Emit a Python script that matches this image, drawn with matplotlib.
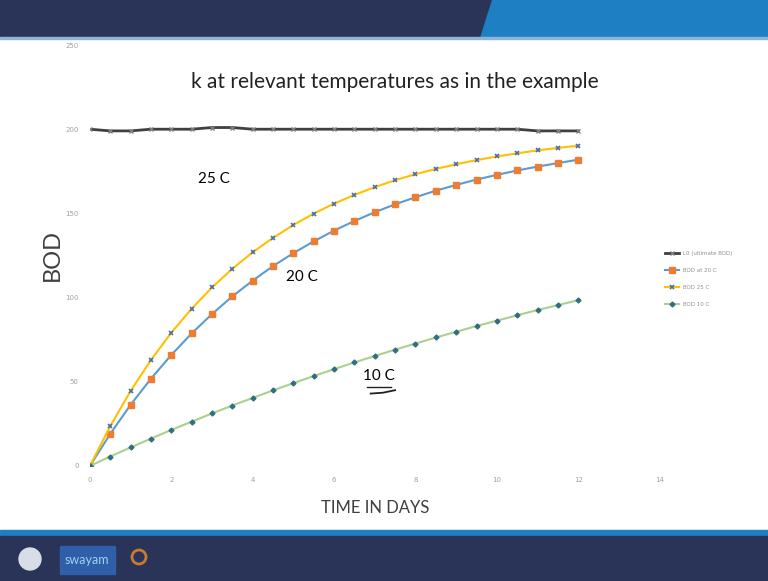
import matplotlib.pyplot as plt
from matplotlib.patches import Polygon, Rectangle, Circle

# time axis (days) and BOD values
days = [0, 0.5, 1, 1.5, 2, 2.5, 3, 3.5, 4, 4.5, 5, 5.5, 6, 6.5, 7, 7.5,
        8, 8.5, 9, 9.5, 10, 10.5, 11, 11.5, 12]
bod_ult = [200, 199, 199, 200, 200, 200, 201, 201, 200, 200, 200, 200, 200,
           200, 200, 200, 200, 200, 200, 200, 200, 200, 199, 199, 199]
bod_20 = [0, 19.0, 36.3, 51.8, 65.9, 78.7, 90.2, 100.7, 110.1, 118.7, 126.4,
          133.4, 139.8, 145.5, 150.7, 155.4, 159.6, 163.5, 166.9, 170.1,
          172.9, 175.5, 177.8, 179.9, 181.9]
bod_25 = [0, 23.6, 44.5, 62.9, 79.1, 93.4, 106.0, 117.1, 126.9, 135.5, 143.1,
          149.9, 155.8, 161.0, 165.6, 169.7, 173.3, 176.4, 179.2, 181.7,
          183.8, 185.7, 187.4, 188.9, 190.2]
bod_10 = [0, 5.6, 11.0, 16.2, 21.4, 26.3, 31.2, 35.9, 40.4, 44.9, 49.2, 53.4,
          57.5, 61.5, 65.3, 69.1, 72.7, 76.3, 79.7, 83.1, 86.3, 89.5, 92.6,
          95.5, 98.5]
labels = ['L0 (ultimate BOD)', 'BOD at 20 C', 'BOD 25 C', 'BOD 10 C']
xticks = [0, 2, 4, 6, 8, 10, 12, 14]
yticks = [0, 50, 100, 150, 200, 250]

font = 'Lato'
navy = '#2a3358'
blue = '#1e7fc3'

fig = plt.figure(figsize=(7.68, 5.81), dpi=100)

# slide decoration: banners top and bottom
bg = fig.add_axes([0, 0, 1, 1])
bg.set_xlim(0, 768)
bg.set_ylim(581, 0)
bg.axis('off')
bg.add_patch(Rectangle((0, 0), 768, 38, color=navy))
bg.add_patch(Polygon([(492, 0), (768, 0), (768, 38), (480, 38)], color=blue))
bg.add_patch(Rectangle((0, 37), 768, 2, color='#8fb3d9'))
bg.add_patch(Rectangle((0, 530), 768, 6, color=blue))
bg.add_patch(Rectangle((0, 536), 768, 45, color=navy))
bg.add_patch(Circle((30, 559), 11, color='#d9dde6'))
bg.add_patch(Rectangle((60, 546), 55, 28, color='#2f5fa8'))
bg.text(87, 560, 'swayam', color='#9fd0f5', fontsize=9, family=font,
        ha='center', va='center')
bg.add_patch(Circle((139, 557), 7, fill=False, ec='#c77b2e', lw=2))
bg.text(395, 82, 'k at relevant temperatures as in the example', fontsize=15,
        family=font, color='#222222', ha='center', va='center')

ax = fig.add_axes([0.117, 0.198, 0.742, 0.7245])
ax.patch.set_alpha(0)
ax.plot(days, bod_ult, color='#404040', lw=2, marker='x', ms=3,
        mec='#808080', label=labels[0])
ax.plot(days, bod_20, color='#5b9bd5', lw=1.5, marker='s', ms=5,
        mfc='#ed7d31', mec='#ed7d31', label=labels[1])
ax.plot(days, bod_25, color='#ffc000', lw=1.5, marker='x', ms=3,
        mec='#4a6fa5', mew=1.2, label=labels[2])
ax.plot(days, bod_10, color='#a9d18e', lw=1.5, marker='D', ms=2.5,
        mfc='#2f6f7f', mec='#2f6f7f', label=labels[3])

ax.set_xlim(0, 14)
ax.set_ylim(0, 250)
ax.set_xticks(xticks)
ax.set_yticks(yticks)
ax.tick_params(length=0, labelsize=5, labelcolor='#a0a0a0', pad=8)
for s in ax.spines.values():
    s.set_visible(False)

ax.set_ylabel('BOD', fontsize=17, family=font, color='#404040', labelpad=2)
ax.set_xlabel('TIME IN DAYS', fontsize=12, family=font, color='#404040',
              labelpad=12)

ax.text(3.05, 168, '25 C', fontsize=11, family=font, ha='center')
ax.text(5.2, 110, '20 C', fontsize=11, family=font, ha='center')
ax.text(7.1, 51, '10 C', fontsize=11, family=font, ha='center')
ax.plot([6.8, 7.4], [47, 47], color='#222222', lw=1)
ax.plot([6.9, 7.2, 7.5], [43, 43.5, 45], color='#222222', lw=1.3)

leg = ax.legend(loc='center left', bbox_to_anchor=(1.0, 0.444), frameon=False,
                fontsize=4, labelcolor='#909090', handlelength=2.5,
                labelspacing=2.2)

fig.savefig('out.png', dpi=100)
